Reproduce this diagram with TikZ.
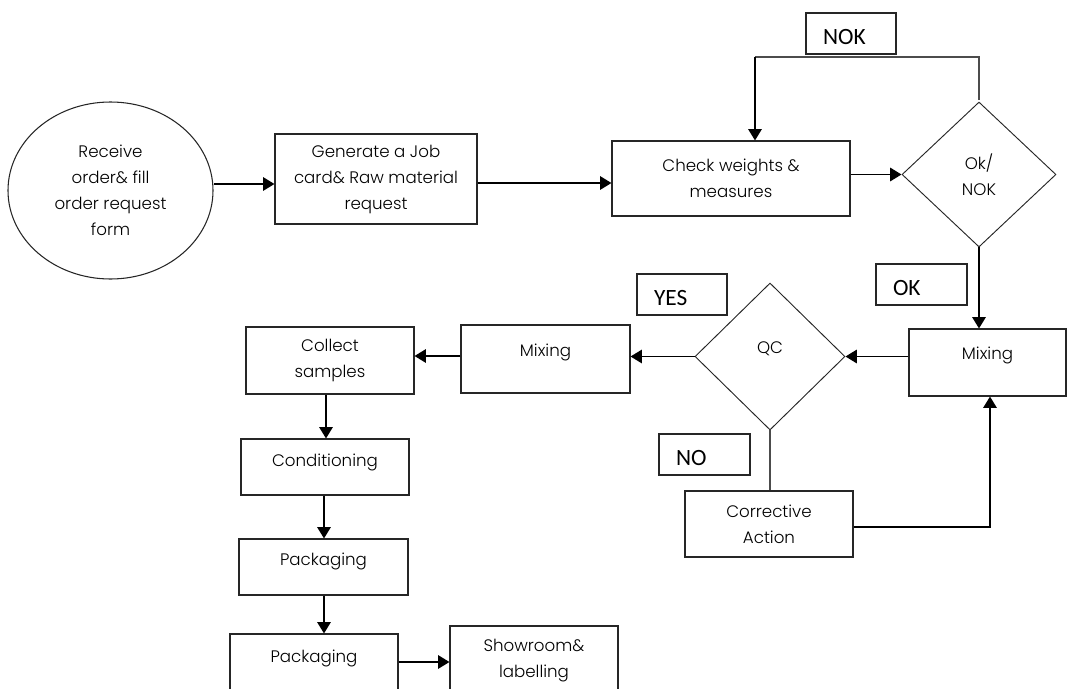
\documentclass[tikz,border=0pt]{standalone}
\usepackage{fontspec}
\setmainfont{Poppins}[UprightFont={* Light}]
\newfontfamily\lblfont{Carlito}
\usetikzlibrary{shapes.geometric,arrows.meta}
\begin{document}
\begin{tikzpicture}[x={(0.75pt,0)},y={(0,-0.75pt)},
  wh/.style 2 args={minimum width=#1*0.75pt,minimum height=#2*0.75pt},
  box/.style={draw=black!85,line width=0.8pt,rectangle,inner sep=0pt,align=center,
    font=\fontsize{12.5}{19.5}\selectfont},
  up/.style={text height=9pt,text depth={9pt+#1}},
  dia/.style={draw=black!85,line width=0.7pt,diamond,inner sep=0pt,align=center,
    font=\fontsize{12.5}{19.5}\selectfont},
  lbl/.style={draw=black!85,line width=0.8pt,rectangle,inner ysep=0pt,inner xsep=17*0.75pt,
    align=left,text height=17pt,text depth=0pt,font=\lblfont\fontsize{17.5}{20}\selectfont},
  arr/.style={line width=1.4pt,-{Triangle[length=8.5pt,width=10pt]}},
  thinln/.style={line width=0.9pt,draw=black!70}]
\useasboundingbox (0,0) rectangle (1068,689);
\clip (0,0) rectangle (1068,689);
% main nodes
\node[box,ellipse,wh={205}{177}] (recv) at (110.5,190.5) {Receive\\order\& fill\\order request\\form};
\node[box,wh={202}{90}] (job) at (376,179) {Generate a Job\\card\& Raw material\\request};
\node[box,wh={238}{75}] (check) at (731,178.5) {Check weights \&\\measures};
\node[dia,minimum width=154*0.75pt,minimum height=145*0.75pt] (oknok) at (979,174.5) {Ok/\\NOK};
\node[box,up=4.3pt,wh={157}{67}] (mix1) at (987.5,362.5) {Mixing};
\node[dia,up=4.3pt,minimum width=150*0.75pt,minimum height=147*0.75pt] (qc) at (770,356.5) {QC};
\node[box,up=3.6pt,wh={169}{68}] (mix2) at (545.5,359) {Mixing};
\node[box,wh={168}{67}] (collect) at (330,360.5) {Collect\\samples};
\node[box,up=0.6pt,wh={168}{56}] (cond) at (325,467) {Conditioning};
\node[box,up=2.1pt,wh={169}{56}] (pack1) at (323.5,567) {Packaging};
\node[box,up=-1pt,wh={168}{56}] (pack2) at (314,662) {Packaging};
\node[box,wh={168}{70}] (show) at (534,661) {Showroom\&\\labelling};
\node[box,wh={168}{66}] (corr) at (769,524) {Corrective\\Action};
% labels
\node[lbl,text width=56*0.75pt,minimum height=41*0.75pt] (nokl) at (851,33.5) {NOK};
\node[lbl,text width=57*0.75pt,minimum height=41*0.75pt] (okl) at (921.5,284.5) {OK};
\node[lbl,text width=56*0.75pt,minimum height=41*0.75pt] (yesl) at (682,294.5) {YES};
\node[lbl,text width=57*0.75pt,minimum height=41*0.75pt] (nol) at (704.5,454.5) {NO};
% connectors
\coordinate (nokc) at (755,57);
\draw[arr] (recv.east |- 0,184) -- (job.west |- 0,184);
\draw[arr] (job.east |- 0,183) -- (check.west |- 0,183);
\draw[arr] (check.east |- oknok.west) -- (oknok.west);
\draw[thinln] ([yshift=1.5pt]oknok.north) -- (oknok.north |- nokc) -- (nokc);
\draw[arr] (nokc) -- (check.north -| nokc);
\draw[arr] (oknok.south) -- (oknok.south |- mix1.north);
\draw[arr] (mix1.west |- qc.east) -- (qc.east);
\draw[arr] (qc.west) -- (qc.west -| mix2.east);
\draw[arr] (mix2.west |- 0,356) -- (collect.east |- 0,356);
\draw[arr] (collect.south -| 326,0) -- (cond.north -| 326,0);
\draw[arr] (cond.south -| 324,0) -- (pack1.north -| 324,0);
\draw[arr] (pack1.south -| 324,0) -- (pack2.north -| 324,0);
\draw[arr] (pack2.east) -- (pack2.east -| show.west);
\draw[thinln] (qc.south) -- (qc.south |- corr.north);
\draw[arr] (corr.east |- 0,527) -| (mix1.south -| 990,0);
\end{tikzpicture}
\end{document}
